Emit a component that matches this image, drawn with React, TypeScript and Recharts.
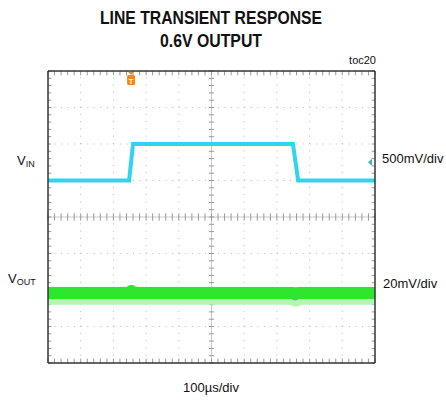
import React from 'react';
import { LineChart, Line, XAxis, YAxis, ReferenceLine, ReferenceDot } from 'recharts';

// scope screen: 10 x 8 divisions, values in divisions from bottom-left
const vinTime = [0, 2.48, 2.6, 7.49, 7.65, 10];
const vinLevel = [5, 5, 6, 6, 5, 5];

const voutTime = [0, 2.5, 2.55, 2.62, 7.5, 7.57, 7.65, 10];
const voutLevel = [1.92, 1.92, 1.97, 1.92, 1.92, 1.88, 1.92, 1.92];

const triggerTime = 2.54;
const vinGroundMarker = 5.5;

const vinData = vinTime.map((t, i) => ({ t, v: vinLevel[i] }));
const voutData = voutTime.map((t, i) => ({ t, v: voutLevel[i] }));
const voutHaloData = voutTime.map((t, i) => ({ t, v: voutLevel[i] - 0.08 }));

const GRID = '#b8b8b8';
const minorX = Array.from({ length: 51 }, (_, i) => i * 0.2);
const minorY = Array.from({ length: 41 }, (_, i) => i * 0.2);

const TriggerShape = (props: any) => {
  const { cx, cy } = props;
  return (
    <g>
      <polygon points={`${cx - 3},${cy + 1} ${cx + 3},${cy + 1} ${cx},${cy + 4}`} fill="#e8892e" />
      <rect x={cx - 4} y={cy + 4} width={8} height={10} rx={1.5} fill="#e8892e" />
      <text x={cx} y={cy + 12.5} textAnchor="middle" fontSize={8} fontWeight="bold" fill="#fff3e0" fontFamily="Liberation Sans">T</text>
    </g>
  );
};

const GroundShape = (props: any) => {
  const { cx, cy } = props;
  return <polygon points={`${cx - 7},${cy} ${cx - 3},${cy - 3.5} ${cx - 3},${cy + 3.5}`} fill="#3fb6a8" />;
};

const App: React.FC = () => {
  return (
    <div style={{ position: 'absolute', left: 0, top: 0, width: 446, height: 406, background: '#fff' }}>
      <LineChart width={446} height={406} margin={{ top: 71, right: 71, bottom: 43, left: 48 }}>
        <XAxis type="number" dataKey="t" domain={[0, 10]} hide allowDataOverflow />
        <YAxis type="number" domain={[0, 8]} hide allowDataOverflow />

        {[1, 2, 3, 4, 6, 7, 8, 9].map((x) => (
          <ReferenceLine key={`vx${x}`} x={x} stroke={GRID} strokeWidth={1} strokeDasharray="1 6.3" />
        ))}
        {[1, 2, 3, 5, 6, 7].map((y) => (
          <ReferenceLine key={`hy${y}`} y={y} stroke={GRID} strokeWidth={1} strokeDasharray="1 5.54" />
        ))}
        <ReferenceLine x={5} stroke="#c8c8c8" strokeWidth={1} />
        <ReferenceLine y={4} stroke="#c8c8c8" strokeWidth={1} />

        {minorX.map((x) => (
          <ReferenceLine key={`cx${x}`} segment={[{ x, y: 3.9 }, { x, y: 4.1 }]} stroke="#999" strokeWidth={1} />
        ))}
        {minorY.map((y) => (
          <ReferenceLine key={`cy${y}`} segment={[{ x: 4.92, y }, { x: 5.08, y }]} stroke="#999" strokeWidth={1} />
        ))}
        {minorX.map((x) => (
          <ReferenceLine key={`tx${x}`} segment={[{ x, y: 8 }, { x, y: 7.88 }]} stroke="#999" strokeWidth={1} />
        ))}
        {minorX.map((x) => (
          <ReferenceLine key={`bx${x}`} segment={[{ x, y: 0 }, { x, y: 0.12 }]} stroke="#999" strokeWidth={1} />
        ))}
        {minorY.map((y) => (
          <ReferenceLine key={`ly${y}`} segment={[{ x: 0, y }, { x: 0.1, y }]} stroke="#999" strokeWidth={1} />
        ))}
        {minorY.map((y) => (
          <ReferenceLine key={`ry${y}`} segment={[{ x: 10, y }, { x: 9.9, y }]} stroke="#999" strokeWidth={1} />
        ))}

        <Line data={voutHaloData} dataKey="v" type="linear" stroke="#b4f5b4" strokeWidth={18} strokeLinejoin="round" dot={false} isAnimationActive={false} />
        <Line data={voutData} dataKey="v" type="linear" stroke="#2ee62e" strokeWidth={12} strokeLinejoin="round" dot={false} isAnimationActive={false} />
        <Line data={vinData} dataKey="v" type="linear" stroke="#30d4ee" strokeWidth={4} dot={false} isAnimationActive={false} />

        <ReferenceLine segment={[{ x: 0, y: 0 }, { x: 10, y: 0 }]} stroke="#333" strokeWidth={1.5} />
        <ReferenceLine segment={[{ x: 0, y: 8 }, { x: 10, y: 8 }]} stroke="#333" strokeWidth={1.5} />
        <ReferenceLine segment={[{ x: 0, y: 0 }, { x: 0, y: 8 }]} stroke="#333" strokeWidth={1.5} />
        <ReferenceLine segment={[{ x: 10, y: 0 }, { x: 10, y: 8 }]} stroke="#333" strokeWidth={1.5} />

        <ReferenceDot x={triggerTime} y={8} r={4} shape={TriggerShape} />
        <ReferenceDot x={10} y={vinGroundMarker} r={4} shape={GroundShape} />
      </LineChart>

      <svg width={446} height={406} style={{ position: 'absolute', left: 0, top: 0, pointerEvents: 'none' }}>
        <g fontFamily="'Liberation Sans', Arial, sans-serif" fontWeight="bold" fontSize={19} fill="#111" textAnchor="middle">
          <text x={211} y={24} textLength={222} lengthAdjust="spacingAndGlyphs">LINE TRANSIENT RESPONSE</text>
          <text x={211} y={47} textLength={102} lengthAdjust="spacingAndGlyphs">0.6V OUTPUT</text>
        </g>
        <g fontFamily="'Liberation Sans', Arial, sans-serif" fill="#111">
          <text x={376} y={64} fontSize={11} textAnchor="end">toc20</text>
          <text x={17} y={165} fontSize={13}>V<tspan fontSize={9} dy={2}>IN</tspan></text>
          <text x={8} y={283} fontSize={13}>V<tspan fontSize={9} dy={2}>OUT</tspan></text>
          <text x={382} y={163} fontSize={13}>500mV/div</text>
          <text x={383} y={288} fontSize={13}>20mV/div</text>
          <text x={211} y={392} fontSize={13} textAnchor="middle">100µs/div</text>
        </g>
      </svg>
    </div>
  );
};

export default App;
